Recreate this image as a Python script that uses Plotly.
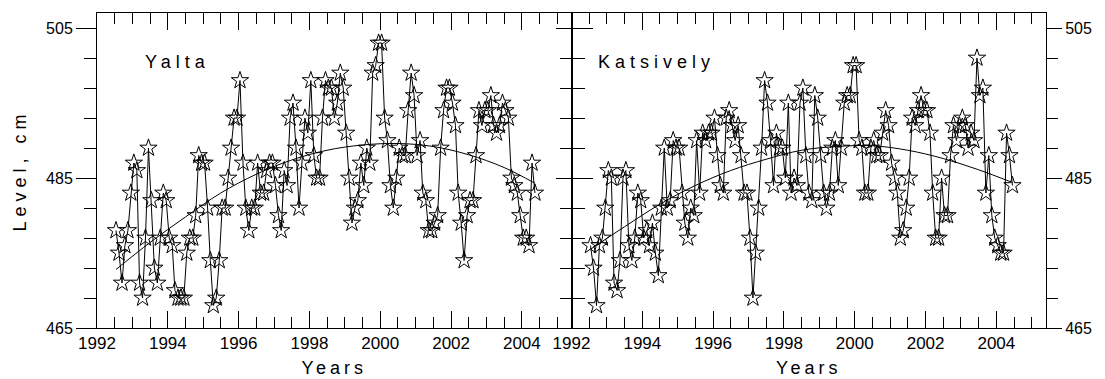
import pandas as pd
import plotly.graph_objects as go
from plotly.subplots import make_subplots

# ---------------- data ----------------
FIRST_MONTH = "1992-07-01"

YALTA_LEVEL = [
    478, 475, 471, 476, 478, 483, 487, 486, 471, 469, 477, 489,
    482, 473, 471, 477, 483, 482, 477, 476, 470, 469, 469, 469,
    475, 477, 477, 480, 488, 487, 487, 481, 474, 468, 469, 474,
    481, 481, 485, 489, 493, 493, 498, 487, 481, 478, 481, 481,
    487, 483, 483, 486, 487, 487, 484, 480, 478, 486, 484, 493,
    495, 489, 481, 487, 493, 491, 498, 488, 485, 485, 493, 498,
    497, 497, 493, 495, 499, 497, 491, 485, 479, 481, 482, 487,
    484, 489, 487, 499, 500, 503, 503, 493, 490, 484, 481, 485,
    489, 488, 488, 494, 499, 496, 488, 490, 483, 482, 478, 478,
    479, 480, 489, 494, 497, 497, 495, 492, 483, 479, 474, 480,
    482, 482, 488, 494, 492, 494, 494, 496, 492, 491, 492, 495,
    494, 493, 485, 484, 483, 480, 477, 477, 476, 487, 483,
]

KATSIVELY_LEVEL = [
    476, 473, 468, 476, 477, 481, 486, 485, 471, 470, 474, 485,
    486, 476, 474, 477, 483, 482, 477, 478, 476, 479, 475, 472,
    481, 489, 481, 482, 490, 489, 489, 483, 479, 477, 481, 480,
    490, 483, 491, 490, 491, 491, 493, 488, 484, 483, 493, 494,
    492, 490, 492, 488, 483, 483, 477, 469, 475, 481, 489, 498,
    495, 490, 484, 491, 489, 489, 485, 495, 483, 485, 484, 495,
    497, 488, 483, 482, 496, 493, 488, 483, 481, 483, 489, 490,
    484, 489, 495, 496, 496, 500, 500, 490, 489, 483, 483, 489,
    490, 488, 488, 491, 494, 492, 487, 485, 483, 477, 478, 481,
    485, 493, 492, 494, 496, 494, 494, 491, 483, 477, 477, 485,
    480, 480, 488, 492, 490, 492, 493, 492, 489, 491, 490, 501,
    496, 497, 483, 488, 480, 477, 476, 475, 475, 491, 488, 484,
]

# smooth trend curves
YALTA_TREND_DATE = ["1992-07-15", "1993-07-01", "1994-07-01", "1995-07-01",
                    "1996-07-01", "1997-07-01", "1998-07-01", "1999-07-01",
                    "2000-07-01", "2001-07-01", "2002-07-01", "2003-07-01",
                    "2004-05-15"]
YALTA_TREND = [472.8, 476.4, 479.8, 483.0, 485.5, 487.4, 488.7, 489.4,
               489.6, 489.2, 488.1, 486.4, 484.3]

KATSIVELY_TREND_DATE = ["1992-07-15", "1993-07-01", "1994-07-01", "1995-07-01",
                        "1996-07-01", "1997-07-01", "1998-07-01", "1999-07-01",
                        "2000-07-01", "2001-07-01", "2002-07-01", "2003-07-01",
                        "2004-06-15"]
KATSIVELY_TREND = [475.5, 478.5, 481.5, 484.0, 486.0, 487.5, 488.7, 489.2,
                   489.3, 488.7, 487.6, 486.1, 484.4]

STATIONS = ["Yalta", "Katsively"]
X_TITLE = "Years"
Y_TITLE = "Level, cm"


def months(n):
    return pd.date_range(FIRST_MONTH, periods=n, freq="MS") + pd.Timedelta(days=14)


FONT = "Liberation Sans"
BLACK = "black"

fig = make_subplots(rows=1, cols=2, horizontal_spacing=0)

series = [
    (YALTA_LEVEL, YALTA_TREND_DATE, YALTA_TREND),
    (KATSIVELY_LEVEL, KATSIVELY_TREND_DATE, KATSIVELY_TREND),
]
for col, (lev, tdate, trend) in enumerate(series, start=1):
    fig.add_trace(go.Scatter(
        x=months(len(lev)), y=lev, mode="lines+markers",
        line=dict(color=BLACK, width=1),
        marker=dict(symbol="star-open", size=13, color=BLACK,
                    line=dict(color=BLACK, width=1)),
        showlegend=False, name=STATIONS[col - 1]), row=1, col=col)
    fig.add_trace(go.Scatter(
        x=pd.to_datetime(tdate), y=trend, mode="lines",
        line=dict(color=BLACK, width=1, shape="spline"),
        showlegend=False, hoverinfo="skip"), row=1, col=col)

xcommon = dict(
    type="date", range=["1992-01-01", "2005-05-27"],
    tickmode="linear", tick0="1992-01-01", dtick="M24", tickformat="%Y",
    ticks="inside", ticklen=17, tickwidth=1, tickcolor=BLACK,
    minor=dict(tick0="1992-01-01", dtick="M6", ticks="inside", ticklen=11,
               tickwidth=1, tickcolor=BLACK, showgrid=False),
    showline=True, linecolor=BLACK, linewidth=1, mirror="ticks",
    showgrid=False, zeroline=False,
    tickfont=dict(family=FONT, size=17, color=BLACK),
    title=dict(text='<span style="letter-spacing:4px">' + X_TITLE + '</span>',
               font=dict(family=FONT, size=18, color=BLACK), standoff=8),
)
fig.update_xaxes(**xcommon)
fig.update_xaxes(domain=[0, 0.5], row=1, col=1)
fig.update_xaxes(domain=[0.5, 1], row=1, col=2)

ycommon = dict(
    range=[465, 507], tickmode="linear", tick0=465, dtick=20,
    ticks="outside", tickwidth=1, tickcolor=BLACK,
    showline=True, linecolor=BLACK, linewidth=1, mirror="ticks",
    showgrid=False, zeroline=False,
    tickfont=dict(family=FONT, size=16, color=BLACK),
)
fig.update_yaxes(**ycommon)
fig.update_yaxes(side="left", ticklen=20,
                 minor=dict(tick0=465, dtick=4, ticks="outside", ticklen=12,
                            tickwidth=1, tickcolor=BLACK, showgrid=False),
                 title=dict(text='<span style="letter-spacing:5px">' + Y_TITLE + '</span>',
                            font=dict(family=FONT, size=18, color=BLACK), standoff=14),
                 row=1, col=1)
fig.update_yaxes(side="right", ticklen=15,
                 minor=dict(tick0=465, dtick=4, ticks="outside", ticklen=11,
                            tickwidth=1, tickcolor=BLACK, showgrid=False),
                 row=1, col=2)

for i, (name, xa, ya, xpos) in enumerate([(STATIONS[0], "x", "y", 0.097),
                                          (STATIONS[1], "x2", "y2", 0.051)]):
    fig.add_annotation(
        text='<span style="letter-spacing:5px">' + name + '</span>',
        xref=xa + " domain", yref=ya + " domain", x=xpos, y=0.845,
        xanchor="left", yanchor="middle", showarrow=False,
        font=dict(family=FONT, size=18, color=BLACK))

fig.update_layout(
    width=1105, height=379,
    margin=dict(l=97, r=59, t=13, b=51, autoexpand=False),
    paper_bgcolor="white", plot_bgcolor="white",
    font=dict(family=FONT, color=BLACK),
)

fig.write_html("out.html")
